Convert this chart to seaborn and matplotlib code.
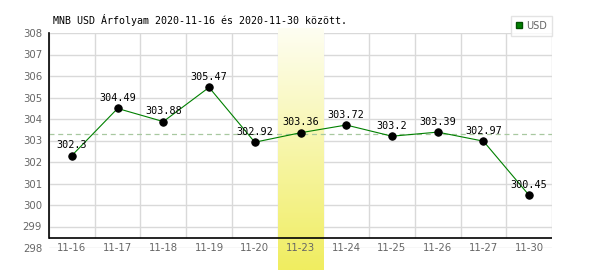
import numpy as np
import pandas as pd
import matplotlib
matplotlib.use("Agg")
import matplotlib.pyplot as plt
import seaborn as sns
from matplotlib.lines import Line2D

dates = ["11-16", "11-17", "11-18", "11-19", "11-20", "11-23", "11-24", "11-25", "11-26", "11-27", "11-30"]
usd = [302.3, 304.49, 303.88, 305.47, 302.92, 303.36, 303.72, 303.2, 303.39, 302.97, 300.45]
value_labels = ["302.3", "304.49", "303.88", "305.47", "302.92", "303.36", "303.72", "303.2", "303.39", "302.97", "300.45"]
highlight_date = "11-23"
y_ticks = [298, 299, 300, 301, 302, 303, 304, 305, 306, 307, 308]
title = "MNB USD Árfolyam 2020-11-16 és 2020-11-30 között."
series_name = "USD"

sns.set_theme(style="white")
plt.rcParams['font.family'] = ['DejaVu Sans']

W, H = 600, 270
fig = plt.figure(figsize=(6, 2.7), dpi=100)
left, right, top, bottom = 49, 552, 33, 248
ax = fig.add_axes([left / W, 1 - bottom / H, (right - left) / W, (bottom - top) / H])

df = pd.DataFrame({"idx": np.arange(len(dates)), "val": usd})
ymin, ymax = 298, 308
ax.set_ylim(ymin, ymax)
ax.set_xlim(-0.5, len(dates) - 0.5)
px_per_unit = (bottom - top) / (ymax - ymin)
axis_line_y = ymin + (bottom - 238) / px_per_unit

# horizontal grid
for yt in y_ticks:
    ax.axhline(yt, color="#d9d9d9", lw=1.0, zorder=0.5)
# vertical grid
for i in range(len(dates) + 1):
    ax.vlines(i - 0.5, axis_line_y, ymax, color="#d9d9d9", lw=1.0, zorder=0.5)

# highlight band with gradient
hi = dates.index(highlight_date)
top_c = np.array([254, 254, 242]) / 255
bot_c = np.array([240, 237, 96]) / 255
n = 200
t = np.linspace(0, 1, n)[:, None]
grad = (top_c[None, :] * (1 - t) + bot_c[None, :] * t)[:, None, :]
band_bottom = ymin - (H - bottom) / px_per_unit
band_top = ymax + (top - 28) / px_per_unit
im = ax.imshow(grad, extent=(hi - 0.5, hi + 0.5, band_bottom, band_top), aspect="auto",
               zorder=0.8, clip_on=False, interpolation="bilinear")

# mean dashed line
ax.axhline(np.mean(usd), color="#a8c8a0", lw=0.9, ls=(0, (4, 3)), zorder=1.5)

# axis line
ax.axhline(axis_line_y, color="black", lw=1.2, zorder=2)

sns.lineplot(data=df, x="idx", y="val", ax=ax, color="#008000", lw=0.8, zorder=3,
             marker="o", markersize=5.3, markerfacecolor="black", markeredgecolor="black")

for i, (v, lab) in enumerate(zip(usd, value_labels)):
    ax.annotate(lab, (i, v), xytext=(0, 7.5), textcoords="offset points", ha="center", va="center",
                fontsize=7.3, family="DejaVu Sans Mono", color="black", zorder=4)

for s in ["top", "right", "bottom"]:
    ax.spines[s].set_visible(False)
ax.spines["left"].set_color("black")
ax.spines["left"].set_linewidth(1.2)
ax.spines["left"].set_bounds(axis_line_y, ymax)

ax.set_yticks(y_ticks)
ax.set_yticklabels([str(y) for y in y_ticks], fontsize=7.3, color="#666666")
ax.set_xticks(range(len(dates)))
ax.set_xticklabels(dates, fontsize=7.3, color="#666666")
ax.tick_params(axis="x", length=0, pad=0)
ax.tick_params(axis="y", length=0, pad=5)
for lab in ax.get_xticklabels():
    lab.set_va("center")
ax.xaxis.set_zorder(5)
ax.yaxis.set_zorder(5)
ax.set_xlabel("")
ax.set_ylabel("")
ax.patch.set_alpha(0)

fig.text(53 / W, 1 - 20 / H, title, fontsize=7.2, family="DejaVu Sans Mono", va="center", ha="left", color="black")

handle = Line2D([], [], marker="s", color="none", markerfacecolor="#008000", markeredgecolor="#005000",
                markersize=5, linestyle="none")
leg = fig.legend([handle], [series_name], loc="upper right", bbox_to_anchor=(right / W, 1 - 16 / H),
                 fontsize=7, frameon=True, fancybox=False, borderaxespad=0, handlelength=0.8,
                 handletextpad=0.3, borderpad=0.5, labelcolor="#666666")
leg.get_frame().set_edgecolor("#dddddd")
leg.get_frame().set_linewidth(1.0)

fig.savefig("out.png", dpi=100)
